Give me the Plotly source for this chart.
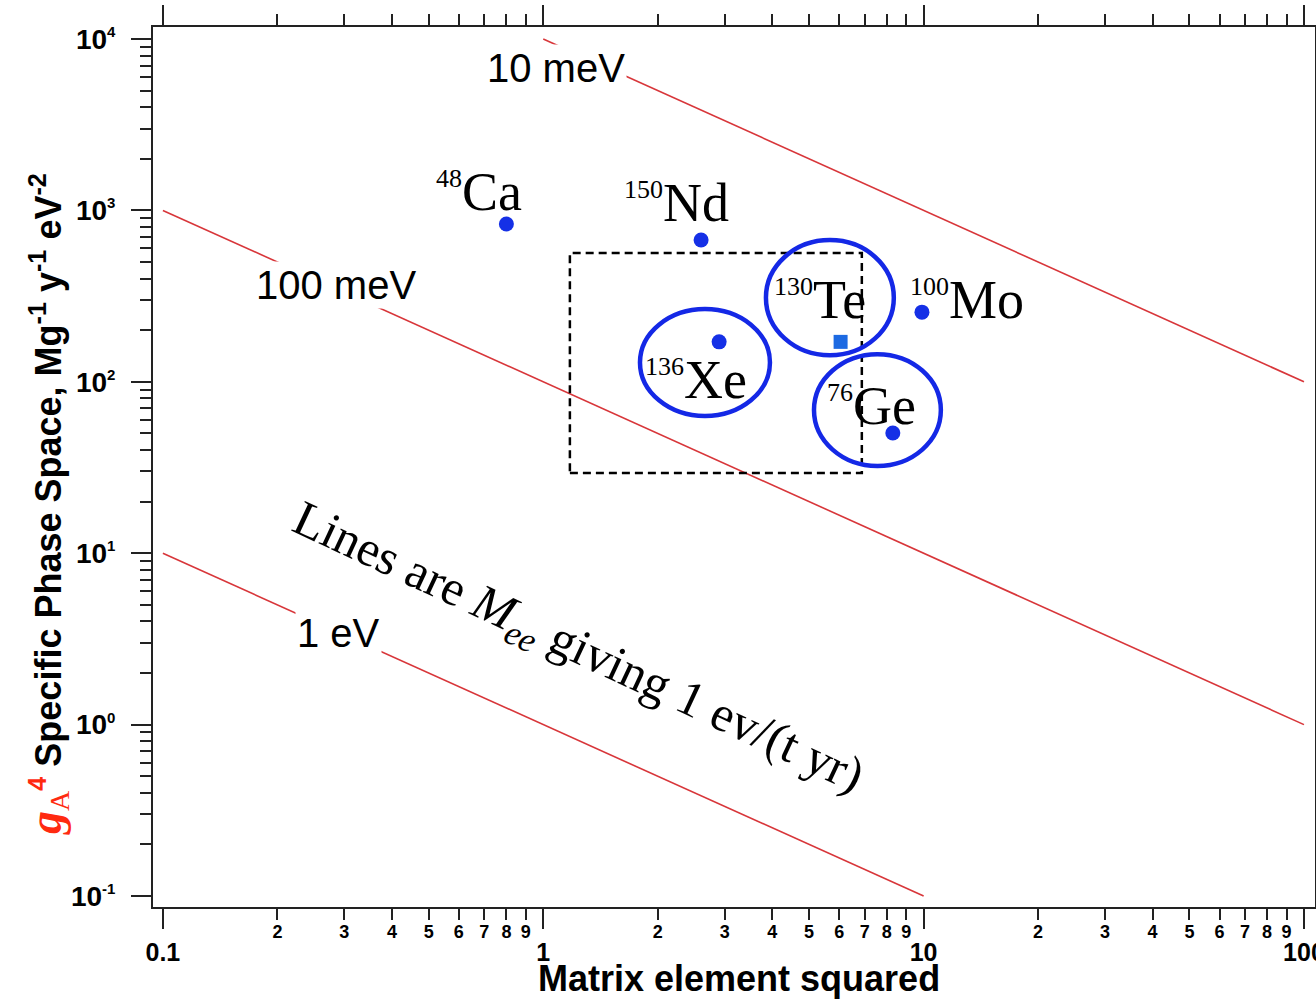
import numpy as np
import plotly.graph_objects as go

# ---- isotopes: matrix element squared vs g_A^4 specific phase space ----
mass_numbers = ["48", "150", "136", "130", "100", "76"]
elements = ["Ca", "Nd", "Xe", "Te", "Mo", "Ge"]
matrix_sq = [0.80, 2.60, 2.90, 6.05, 9.90, 8.30]
phase_space = [833, 672, 171, 171, 255, 50.3]

# ---- M_ee reference lines (endpoints on the log-log grid) ----
mee_labels = ["10 meV", "100 meV", "1 eV"]
lines_x = [[1.0, 100.0], [0.1, 100.0], [0.1, 10.0]]
lines_y = [[1.0e4, 1.0e2], [1.0e3, 1.0], [10.0, 0.1]]

# ---- tick values / labels ----
x_major = [0.1, 1, 10, 100]
x_major_text = ["0.1", "1", "10", "100"]
x_minor = [0.2, 0.3, 0.4, 0.5, 0.6, 0.7, 0.8, 0.9,
           2, 3, 4, 5, 6, 7, 8, 9,
           20, 30, 40, 50, 60, 70, 80, 90]
x_minor_text = ["2", "3", "4", "5", "6", "7", "8", "9"] * 3
y_major = [0.1, 1, 10, 100, 1000, 10000]
y_major_text = ["10<sup><span style='font-size:15px'>-1</span></sup>",
                "10<sup><span style='font-size:15px'>0</span></sup>",
                "10<sup><span style='font-size:15px'>1</span></sup>",
                "10<sup><span style='font-size:15px'>2</span></sup>",
                "10<sup><span style='font-size:15px'>3</span></sup>",
                "10<sup><span style='font-size:15px'>4</span></sup>"]
y_minor = [m * 10.0 ** k for k in range(-1, 4) for m in range(2, 10)]

SANS = "Liberation Sans, Arial, sans-serif"
SERIF = "Liberation Serif, Times New Roman, serif"
RED = "#d8363a"
BLUE = "#1428e6"

X_RANGE = [-1.026, 2.029]
Y_RANGE = [-1.064, 4.070]

fig = go.Figure()

for lx, ly in zip(lines_x, lines_y):
    fig.add_trace(go.Scatter(x=lx, y=ly, mode="lines",
                             line=dict(color=RED, width=1.6),
                             hoverinfo="skip", showlegend=False))

symbols = ["square" if el == "Te" else "circle" for el in elements]
colors = ["#1d6ae2" if el == "Te" else "#1530e6" for el in elements]
sizes = [14 if el == "Te" else 15 for el in elements]
fig.add_trace(go.Scatter(x=matrix_sq, y=phase_space, mode="markers",
                         marker=dict(symbol=symbols, color=colors, size=sizes,
                                     opacity=1, line=dict(width=0)),
                         showlegend=False, hoverinfo="skip"))

# invisible trace so the digit-label axis is built
fig.add_trace(go.Scatter(x=[1], y=[1], xaxis="x2", mode="markers",
                         marker=dict(opacity=0), showlegend=False,
                         hoverinfo="skip"))

# isotope labels, offset from each point in pixels
label_offsets = {"Ca": (-27, 32), "Nd": (-25, 37), "Xe": (-23, -38),
                 "Te": (-21, 42), "Mo": (45, 12), "Ge": (-21, 27)}
for m, el, xv, yv in zip(mass_numbers, elements, matrix_sq, phase_space):
    dx, dy = label_offsets[el]
    fig.add_annotation(x=np.log10(xv), y=np.log10(yv), xref="x", yref="y",
                       text=f"<sup><span style='font-size:26px'>{m}</span></sup>{el}",
                       showarrow=False, xshift=dx, yshift=dy,
                       xanchor="center", yanchor="middle",
                       font=dict(family=SERIF, size=54, color="black"))

# line labels with white boxes that break the lines
line_label_pos = [(1.08, 6780), (0.285, 367), (0.289, 3.42)]
for lab, (lxv, lyv) in zip(mee_labels, line_label_pos):
    fig.add_annotation(x=np.log10(lxv), y=np.log10(lyv), xref="x", yref="y",
                       text=lab, showarrow=False, bgcolor="white", borderpad=1,
                       xanchor="center", yanchor="middle",
                       font=dict(family=SANS, size=40, color="black"))

# rotated note
fig.add_annotation(x=np.log10(1.234), y=np.log10(2.72), xref="x", yref="y",
                   text="Lines are <i>M</i><sub><i>ee</i></sub> giving 1 ev/(t yr)",
                   textangle=25, showarrow=False,
                   xanchor="center", yanchor="middle",
                   font=dict(family=SERIF, size=50, color="black"))

# axis titles
fig.add_annotation(x=0.5043, y=-0.081, xref="paper", yref="paper",
                   xanchor="center", yanchor="middle",
                   text="<b>Matrix element squared</b>", showarrow=False,
                   font=dict(family=SANS, size=36, color="black"))
fig.add_annotation(
    x=-0.0904, y=0.458, xref="paper", yref="paper", textangle=-90,
    xanchor="center", yanchor="middle",
    showarrow=False,
    text=("<span style='color:#ff2a10;font-family:Liberation Serif'>"
          "<span style='font-size:46px'><b><i>g</i></b></span>"
          "<sub><span style='font-size:28px'>A</span></sub></span>"
          "<span style='color:#ff2a10'><sup><b>4</b></sup></span> "
          "<b>Specific Phase Space, Mg<sup>-1</sup> y<sup>-1</sup> eV<sup>-2</sup></b>"),
    font=dict(family=SANS, size=36, color="black"))

# dashed box and highlight ellipses
fig.add_shape(type="rect", x0=1.175, x1=6.88, y0=29.4, y1=564,
              xref="x", yref="y", line=dict(color="black", width=2.5, dash="8px,5px"))
ellipses = [(3.85, 8.35, 143, 671), (1.796, 3.945, 63.2, 266), (5.15, 11.1, 32.3, 145)]
for x0, x1, y0, y1 in ellipses:
    fig.add_shape(type="circle", x0=x0, x1=x1, y0=y0, y1=y1, xref="x", yref="y",
                  line=dict(color=BLUE, width=4.5))

axis_common = dict(showgrid=False, zeroline=False, linecolor="#222",
                   linewidth=2, tickcolor="#222", automargin=False)

fig.update_layout(
    width=1316, height=999,
    margin=dict(l=153, r=1, t=27, b=92, pad=0, autoexpand=False),
    paper_bgcolor="white", plot_bgcolor="white",
    showlegend=False,
    xaxis=dict(type="log", range=X_RANGE, tickmode="array", tickvals=x_major,
               ticktext=x_major_text, ticks="outside", ticklen=20, tickwidth=2,
               mirror="ticks", showline=True,
               ticklabelstandoff=2, ticklabeloverflow="allow",
               tickfont=dict(family=SANS, size=25, color="black", weight="bold"),
               minor=dict(tickmode="array", tickvals=x_minor, ticks="outside",
                          ticklen=11, tickwidth=1.5, tickcolor="#222"),
               **axis_common),
    xaxis2=dict(type="log", range=X_RANGE, overlaying="x", anchor="y", side="bottom",
                tickmode="array", tickvals=x_minor, ticktext=x_minor_text,
                ticks="outside", ticklen=8, tickcolor="rgba(0,0,0,0)",
                showline=False, showgrid=False, zeroline=False, automargin=False,
                tickfont=dict(family=SANS, size=18, color="black", weight="bold")),
    yaxis=dict(type="log", range=Y_RANGE, tickmode="array", tickvals=y_major,
               ticktext=y_major_text, ticks="outside", ticklen=20, tickwidth=2,
               mirror="ticks", showline=True, ticklabelstandoff=10,
               tickfont=dict(family=SANS, size=28, color="black", weight="bold"),
               minor=dict(tickmode="array", tickvals=y_minor, ticks="outside",
                          ticklen=11, tickwidth=1.5, tickcolor="#222"),
               **axis_common),
)

fig.write_html("out.html")
